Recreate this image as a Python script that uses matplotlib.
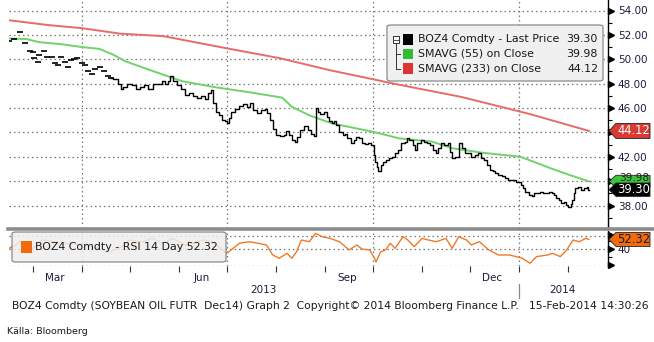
import numpy as np
import pandas as pd
import matplotlib.pyplot as plt
import matplotlib.dates as mdates
from matplotlib.patches import Polygon, FancyBboxPatch, Rectangle
from matplotlib.lines import Line2D

# price (close)
price_dates = ["2013-02-14", "2013-02-17", "2013-02-21", "2013-02-24", "2013-02-27", "2013-03-01", "2013-03-02",
               "2013-03-04", "2013-03-05", "2013-03-08", "2013-03-10", "2013-03-13", "2013-03-15", "2013-03-17",
               "2013-03-19", "2013-03-21", "2013-03-23", "2013-03-25", "2013-03-27", "2013-03-29", "2013-04-01",
               "2013-04-03", "2013-04-05", "2013-04-07", "2013-04-09", "2013-04-12", "2013-04-15", "2013-04-17",
               "2013-04-19", "2013-04-22", "2013-04-25", "2013-04-26", "2013-04-28", "2013-05-01", "2013-05-04",
               "2013-05-06", "2013-05-09", "2013-05-11", "2013-05-14", "2013-05-17", "2013-05-20", "2013-05-22",
               "2013-05-24", "2013-05-26", "2013-05-27", "2013-05-30", "2013-06-01", "2013-06-04", "2013-06-06",
               "2013-06-09", "2013-06-11", "2013-06-14", "2013-06-16", "2013-06-19", "2013-06-20", "2013-06-22",
               "2013-06-23", "2013-06-25", "2013-06-27", "2013-06-29", "2013-07-01", "2013-07-02", "2013-07-03",
               "2013-07-05", "2013-07-08", "2013-07-10", "2013-07-13", "2013-07-15", "2013-07-16", "2013-07-19",
               "2013-07-21", "2013-07-24", "2013-07-26", "2013-07-27", "2013-07-29", "2013-07-31", "2013-08-02",
               "2013-08-05", "2013-08-07", "2013-08-08", "2013-08-10", "2013-08-12", "2013-08-14", "2013-08-15",
               "2013-08-17", "2013-08-20", "2013-08-22", "2013-08-24", "2013-08-26", "2013-08-27", "2013-08-28",
               "2013-08-30", "2013-09-01", "2013-09-03", "2013-09-04", "2013-09-06", "2013-09-07", "2013-09-09",
               "2013-09-11", "2013-09-13", "2013-09-14", "2013-09-16", "2013-09-18", "2013-09-20", "2013-09-21",
               "2013-09-23", "2013-09-25", "2013-09-27", "2013-09-29", "2013-10-01", "2013-10-02", "2013-10-03",
               "2013-10-04", "2013-10-05", "2013-10-07", "2013-10-08", "2013-10-10", "2013-10-12", "2013-10-14",
               "2013-10-16", "2013-10-18", "2013-10-20", "2013-10-22", "2013-10-23", "2013-10-25", "2013-10-27",
               "2013-10-28", "2013-10-30", "2013-11-01", "2013-11-03", "2013-11-05", "2013-11-07", "2013-11-09",
               "2013-11-10", "2013-11-12", "2013-11-14", "2013-11-16", "2013-11-18", "2013-11-19", "2013-11-21",
               "2013-11-23", "2013-11-25", "2013-11-27", "2013-11-29", "2013-12-01", "2013-12-03", "2013-12-05",
               "2013-12-07", "2013-12-09", "2013-12-11", "2013-12-13", "2013-12-15", "2013-12-16", "2013-12-18",
               "2013-12-20", "2013-12-22", "2013-12-24", "2013-12-26", "2013-12-29", "2013-12-31", "2014-01-02",
               "2014-01-03", "2014-01-04", "2014-01-06", "2014-01-08", "2014-01-10", "2014-01-11", "2014-01-13",
               "2014-01-15", "2014-01-17", "2014-01-19", "2014-01-21", "2014-01-22", "2014-01-24", "2014-01-25",
               "2014-01-27", "2014-01-28", "2014-01-30", "2014-01-31", "2014-02-02", "2014-02-03", "2014-02-04",
               "2014-02-05", "2014-02-06", "2014-02-08", "2014-02-10", "2014-02-12", "2014-02-13", "2014-02-14"]
price_vals = [51.5, 51.7, 52.2, 51.3, 50.7, 50.6, 50.1,
              49.8, 50.35, 50.7, 50.2, 50.2, 49.7, 49.5,
              50.15, 49.8, 49.4, 49.9, 50.0, 50.1, 49.7,
              49.5, 49.0, 48.8, 49.2, 49.4, 49.0, 48.65,
              48.5, 48.4, 48.0, 47.6, 47.75, 48.0, 47.9,
              47.6, 47.75, 47.9, 47.6, 47.97, 48.0, 48.25,
              48.0, 48.2, 48.6, 48.2, 47.9, 47.6, 47.1,
              47.2, 47.0, 46.8, 47.0, 46.75, 47.2, 47.5,
              46.4, 45.7, 45.4, 45.0, 44.9, 44.75, 45.15,
              45.7, 45.9, 46.2, 46.3, 46.1, 46.4, 45.85,
              45.6, 45.8, 45.9, 45.6, 45.0, 44.3, 43.8,
              43.7, 43.8, 44.1, 43.8, 43.4, 43.2, 43.6,
              44.2, 44.5, 44.2, 43.9, 43.7, 46.0, 45.7,
              45.5, 45.7, 45.3, 44.9, 44.75, 44.9, 44.6,
              44.05, 43.8, 43.9, 43.5, 43.1, 43.4, 43.65,
              43.5, 43.15, 43.05, 43.1, 42.95, 42.15, 41.6,
              41.2, 40.8, 41.3, 41.6, 41.75, 41.9, 42.0,
              42.3, 42.55, 43.1, 43.25, 43.5, 43.4, 42.95,
              42.55, 43.1, 43.4, 43.25, 43.1, 42.95, 42.55,
              42.3, 42.7, 43.1, 42.95, 43.1, 42.4, 41.9,
              42.0, 43.1, 42.7, 42.3, 42.3, 42.0, 42.15,
              42.3, 41.9, 41.75, 41.3, 40.9, 40.8, 40.65,
              40.5, 40.4, 40.25, 40.1, 40.1, 39.95, 39.95,
              39.7, 39.4, 39.15, 38.9, 38.75, 39.0, 39.0,
              39.15, 39.0, 39.0, 39.15, 39.0, 38.9, 38.6,
              38.45, 38.2, 38.25, 38.05, 37.9, 38.1, 38.45,
              39.0, 39.4, 39.5, 39.3, 39.4, 39.5, 39.3]

sma55_dates = ["2013-02-14", "2013-02-25", "2013-03-05", "2013-03-18", "2013-04-01", "2013-04-12", "2013-04-21",
               "2013-04-28", "2013-05-14", "2013-06-03", "2013-06-24", "2013-07-15", "2013-08-05", "2013-08-11",
               "2013-08-22", "2013-09-05", "2013-10-01", "2013-10-18", "2013-11-07", "2013-11-20", "2013-12-09",
               "2014-01-02", "2014-01-21", "2014-02-02", "2014-02-14"]
sma55_vals = [51.7, 51.66, 51.4, 51.25, 51.0, 50.85, 50.35,
              49.85, 49.1, 48.2, 47.7, 47.3, 46.85, 46.1,
              45.4, 44.75, 44.05, 43.5, 43.25, 42.7, 42.33,
              42.0, 41.05, 40.5, 39.98]

sma233_dates = ["2013-02-14", "2013-03-11", "2013-04-01", "2013-04-25", "2013-05-22", "2013-07-01", "2013-08-03",
                "2013-09-04", "2013-10-16", "2013-11-26", "2014-01-08", "2014-02-14"]
sma233_vals = [53.2, 52.8, 52.55, 52.1, 51.9, 50.9, 50.1,
               49.1, 47.95, 46.9, 45.5, 44.12]

rsi_dates = ["2013-02-14", "2013-02-18", "2013-02-21", "2013-02-23", "2013-03-01", "2013-03-07", "2013-03-22",
             "2013-04-04", "2013-04-10", "2013-04-18", "2013-04-26", "2013-05-01", "2013-05-09", "2013-05-15",
             "2013-05-22", "2013-05-28", "2013-06-05", "2013-06-16", "2013-06-22", "2013-07-01", "2013-07-05",
             "2013-07-09", "2013-07-15", "2013-07-21", "2013-07-26", "2013-07-30", "2013-08-03", "2013-08-08",
             "2013-08-11", "2013-08-14", "2013-08-17", "2013-08-22", "2013-08-26", "2013-08-30", "2013-09-04",
             "2013-09-10", "2013-09-16", "2013-09-21", "2013-09-24", "2013-09-29", "2013-10-02", "2013-10-03",
             "2013-10-06", "2013-10-09", "2013-10-12", "2013-10-15", "2013-10-20", "2013-10-23", "2013-10-27",
             "2013-11-01", "2013-11-05", "2013-11-10", "2013-11-16", "2013-11-20", "2013-11-24", "2013-11-29",
             "2013-12-02", "2013-12-07", "2013-12-13", "2013-12-19", "2013-12-26", "2013-12-30", "2014-01-03",
             "2014-01-08", "2014-01-12", "2014-01-19", "2014-01-22", "2014-01-27", "2014-01-31", "2014-02-04",
             "2014-02-08", "2014-02-12", "2014-02-14"]
rsi_vals = [41.2, 45.0, 50.4, 47.5, 41.2, 51.6, 47.5,
            45.0, 41.7, 36.7, 43.3, 51.6, 49.1, 53.7,
            47.5, 53.7, 45.0, 51.6, 49.1, 35.0, 41.2,
            47.5, 49.5, 47.5, 45.4, 32.9, 28.8, 35.0,
            28.8, 37.0, 51.6, 49.5, 59.9, 55.8, 53.7,
            49.5, 39.2, 45.4, 40.4, 39.2, 28.8, 24.2,
            37.0, 39.2, 47.5, 41.2, 55.8, 51.6, 43.3,
            53.7, 51.6, 49.5, 53.7, 41.2, 55.8, 51.6,
            45.4, 49.5, 39.2, 32.9, 32.9, 30.9, 28.8,
            22.5, 30.9, 32.9, 35.0, 30.9, 39.2, 51.6,
            49.5, 53.7, 52.32]

last_price, last_sma55, last_sma233, last_rsi = 39.30, 39.98, 44.12, 52.32
price_ticks = [38, 40, 42, 44, 46, 48, 50, 52, 54]
hidden_ticks = [40, 44]  # covered by the value tags in the original
quarter_labels = ["Mar", "Jun", "Sep", "Dec"]
quarter_label_dates = ["2013-03-15", "2013-06-15", "2013-09-15", "2013-12-15"]
grid_dates = ["2013-04-01", "2013-07-01", "2013-10-01", "2014-01-01"]

price_d = pd.to_datetime(price_dates)
price_s = pd.Series(price_vals, index=price_d)

W, H = 654, 342
fig = plt.figure(figsize=(W / 100, H / 100), dpi=100)
ax = fig.add_axes([9 / W, 1 - 228 / H, 599 / W, 228 / H])
ax2 = fig.add_axes([9 / W, 1 - 266 / H, 599 / W, 35 / H])

navy = '#1c1c40'
dot = (0, (1.2, 2.4))
x0, x1 = pd.Timestamp("2013-02-14"), pd.Timestamp("2014-02-26")

for a in (ax, ax2):
    a.set_xlim(x0, x1)
    for s in ('left', 'top', 'bottom'):
        a.spines[s].set_visible(False)
    a.spines['right'].set_color('black')
    a.spines['right'].set_linewidth(1)
    a.yaxis.tick_right()
    for g in grid_dates:
        a.axvline(pd.Timestamp(g), color='#777777', lw=0.9, ls=dot, zorder=1)

# main panel
ax.set_ylim(54 - 217.5 / 12.19, 54 + 10.5 / 12.19)
for t in price_ticks:
    ax.axhline(t, color='#777777', lw=0.9, ls=dot, zorder=1)

early = price_s[price_s.index < "2013-04-20"]
late = price_s[price_s.index >= "2013-04-19"]
ax.plot(early.index, early.values, ls='none', marker='_', ms=5, mew=1.2, color='black', zorder=4)
ax.plot(late.index, late.values, drawstyle='steps-mid', color='black', lw=1.0, zorder=4)
ax.plot(pd.to_datetime(sma55_dates), sma55_vals, color='#6fd36a', lw=1.4, zorder=3)
ax.plot(pd.to_datetime(sma233_dates), sma233_vals, color='#e86a6a', lw=1.4, zorder=3)

ax.set_xticks([])
ax.set_yticks(price_ticks)
ax.set_yticklabels(['' if t in hidden_ticks else '%.2f' % t for t in price_ticks], fontsize=7.5, color=navy)
ax.set_yticks([t + 1 for t in price_ticks[:-1]] + [37], minor=True)
ax.tick_params(axis='y', which='major', length=0, pad=7)
ax.tick_params(axis='y', which='minor', length=3, width=0.8, color='black', direction='out')
yt = ax.get_yaxis_transform()
ax.plot([1 + 3 / 599] * len(price_ticks), price_ticks, ls='none', marker='>', ms=4,
        color='black', transform=yt, clip_on=False, zorder=5)


def tag(a, v, half, face, tc, text, axw=599, dy=0.0, fs=8.3):
    tr = a.get_yaxis_transform()
    pts = [(1 + 1 / axw, v), (1 + 8 / axw, v + half), (1 + 42 / axw, v + half),
           (1 + 42 / axw, v - half), (1 + 8 / axw, v - half)]
    p = Polygon(pts, closed=True, facecolor=face, edgecolor='#222222', lw=0.6,
                transform=tr, clip_on=False, zorder=6)
    a.add_patch(p)
    a.text(1 + 26 / axw, v + dy, text, transform=tr, ha='center', va='center', fontsize=fs,
           color=tc, zorder=7, clip_on=False)


tag(ax, last_sma233, 0.62, '#d83a34', 'white', '%.2f' % last_sma233)
tag(ax, last_sma55, 0.5, '#3cc43c', '#222222', '%.2f' % last_sma55, dy=0.3, fs=7.6)
tag(ax, last_price, 0.55, 'black', 'white', '%.2f' % last_price)

# RSI panel
rsi_px = 0.8
ax2.set_ylim(40 - (266 - 249.3) / rsi_px, 40 + (249.3 - 231) / rsi_px)
ax2.axhline(56.6, color='#777777', lw=0.9, ls=dot, zorder=1)
ax2.axhline(40, color='#777777', lw=0.9, ls=dot, zorder=1)
ax2.axhline(ax2.get_ylim()[0] + 0.4, color='#777777', lw=0.9, ls=dot, zorder=1)
ax2.plot(pd.to_datetime(rsi_dates), rsi_vals, color='#f07a28', lw=1.0, zorder=3)
ax2.set_yticks([40])
ax2.set_yticklabels(['40'], fontsize=7.5, color=navy)
ax2.set_yticks([30, 50], minor=True)
ax2.tick_params(axis='y', which='major', length=0, pad=7)
ax2.tick_params(axis='y', which='minor', length=3, width=0.8, direction='out')
yt2 = ax2.get_yaxis_transform()
ax2.plot([1 + 3 / 599] * 3, [20, 40, 58], ls='none', marker='>', ms=4, color='black',
         transform=yt2, clip_on=False, zorder=5)
tag(ax2, last_rsi, 8.8, '#f06a10', '#1a1a1a', '%.2f' % last_rsi)

month_starts = pd.date_range("2013-03-01", "2014-02-01", freq='MS')
ax2.set_xticks(month_starts)
ax2.set_xticklabels([''] * len(month_starts))
ax2.set_xticks(pd.to_datetime(quarter_label_dates), minor=True)
ax2.set_xticklabels(quarter_labels, minor=True, fontsize=7.5, color=navy)
ax2.tick_params(axis='x', which='major', length=4, width=0.8, color='#333333', direction='out')
ax2.tick_params(axis='x', which='minor', length=0, pad=5)

# legends
fig.add_artist(FancyBboxPatch((387 / W, 1 - 81 / H), 216 / W, 56 / H,
                              boxstyle='round,pad=0,rounding_size=0.006', transform=fig.transFigure,
                              facecolor='#f0f0f0', edgecolor='#8a8a8a', lw=0.9, zorder=8))
leg_rows = [("BOZ4 Comdty - Last Price", '%.2f' % last_price, 'black'),
            ("SMAVG (55) on Close", '%.2f' % last_sma55, '#33bb33'),
            ("SMAVG (233) on Close", '%.2f' % last_sma233, '#dd3333')]
for i, (lab, val, c) in enumerate(leg_rows):
    yc = 39.5 + i * 14.5
    fig.add_artist(Rectangle((403 / W, 1 - (yc + 5) / H), 10 / W, 10 / H, transform=fig.transFigure,
                             facecolor=c, edgecolor='none', zorder=9))
    fig.text(418 / W, 1 - yc / H, lab, fontsize=7.9, color='#1a1a1a', va='center', ha='left', zorder=9)
    fig.text(598 / W, 1 - yc / H, val, fontsize=7.9, color='#1a1a1a', va='center', ha='right', zorder=9)
# tree bracket
fig.add_artist(Rectangle((393 / W, 1 - 42.5 / H), 6 / W, 6 / H, transform=fig.transFigure,
                         facecolor='white', edgecolor='#333333', lw=0.7, zorder=9))
fig.add_artist(Line2D([394 / W, 398 / W], [1 - 39.5 / H] * 2, color='#333333', lw=0.6, zorder=10))
fig.add_artist(Line2D([396 / W, 396 / W], [1 - 43 / H, 1 - 68.5 / H], color='#333333', lw=0.7, zorder=9))
for yc in (54, 68.5):
    fig.add_artist(Line2D([396 / W, 400 / W], [1 - yc / H] * 2, color='#333333', lw=0.7, zorder=9))

fig.add_artist(FancyBboxPatch((12 / W, 1 - 262 / H), 214 / W, 30 / H,
                              boxstyle='round,pad=0,rounding_size=0.006', transform=fig.transFigure,
                              facecolor='#eeeeee', edgecolor='#777777', lw=0.9, alpha=0.85, zorder=8))
fig.add_artist(Rectangle((21 / W, 1 - 253 / H), 11 / W, 12 / H, transform=fig.transFigure,
                         facecolor='#f06a10', edgecolor='none', zorder=9))
fig.text(35 / W, 1 - 247 / H, "BOZ4 Comdty - RSI 14 Day %.2f" % last_rsi, fontsize=7.95,
         color='#1a1a1a', va='center', ha='left', zorder=9)

# separator between panels
fig.add_artist(Line2D([8 / W, 1], [1 - 229 / H] * 2, color='#8c8c8c', lw=2.6, zorder=7))

# years and footer
fig.text(263 / W, 1 - 290 / H, "2013", fontsize=7.5, color=navy, ha='center', va='center')
fig.text(562 / W, 1 - 290 / H, "2014", fontsize=7.5, color=navy, ha='center', va='center')
fig.add_artist(Line2D([519 / W] * 2, [1 - 284 / H, 1 - 298 / H], color='#888888', lw=0.9))
fig.text(12 / W, 1 - 306 / H,
         "BOZ4 Comdty (SOYBEAN OIL FUTR  Dec14) Graph 2  Copyright\u00a9 2014 Bloomberg Finance L.P.   15-Feb-2014 14:30:26",
         fontsize=7.75, color='#1a1a1a', ha='left', va='center')
fig.text(7 / W, 1 - 332 / H, "Källa: Bloomberg", fontsize=6.8, color='#1a1a1a', ha='left', va='center')

fig.savefig("out.png", dpi=100)
